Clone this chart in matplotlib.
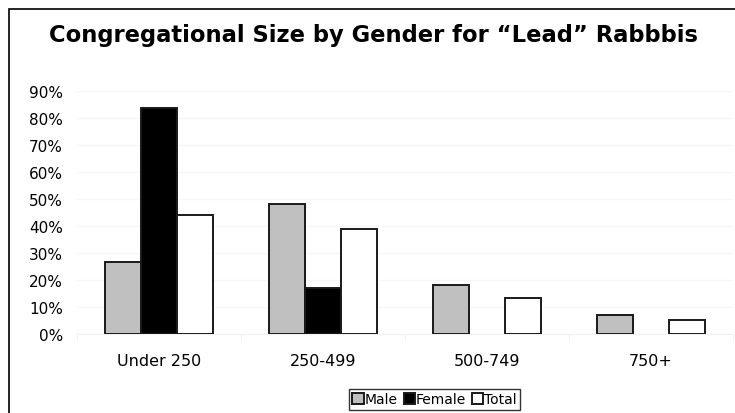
import numpy as np
import matplotlib.pyplot as plt
from matplotlib.patches import Rectangle
from matplotlib.ticker import FixedLocator

categories = ["Under 250", "250-499", "500-749", "750+"]
male = [26.7, 48.3, 18.1, 7.0]
female = [83.6, 17.0, 0.0, 0.0]
total = [44.0, 39.0, 13.3, 5.2]
yticks = [0, 10, 20, 30, 40, 50, 60, 70, 80, 90]

W, H = 735, 414
fig = plt.figure(figsize=(W / 100, H / 100), dpi=100)
fig.patch.set_facecolor("white")

# outer chart frame (cropped at right and bottom)
fig.patches.append(Rectangle((9 / W, -0.1), 2.0, 1.1 - 10 / H, transform=fig.transFigure,
                             fill=False, edgecolor="black", linewidth=1.2, clip_on=False))

ax = fig.add_axes([77 / W, 1 - 335 / H, (733 - 77) / W, (335 - 92) / H])
x = np.arange(len(categories))
bw = 0.22
kw = dict(edgecolor="#1a1a1a", linewidth=1.4, zorder=3)
ax.bar(x - bw, male, bw, color="#c0c0c0", label="Male", **kw)
ax.bar(x, [v if v > 0 else np.nan for v in female], bw, color="black", label="Female", **kw)
ax.bar(x + bw, total, bw, color="white", label="Total", **kw)

ax.set_xlim(-0.5, len(categories) - 0.5)
ax.set_ylim(0, 90)
ax.set_yticks(yticks)
ax.set_yticklabels([f"{v}%" for v in yticks], fontsize=11)
ax.set_xticks(x)
ax.set_xticklabels(categories, fontsize=11.5)
ax.xaxis.set_minor_locator(FixedLocator(np.arange(len(categories) + 1) - 0.5))
ax.tick_params(axis="x", which="major", length=0, pad=14)
ax.tick_params(axis="x", which="minor", length=4, color="#f0f0f0")
ax.tick_params(axis="y", length=0, pad=10)
for s in ["top", "right", "left"]:
    ax.spines[s].set_visible(False)
ax.spines["bottom"].set_color("#f0f0f0")
ax.grid(axis="y", color="#f7f7f7", linewidth=1, zorder=0)
ax.set_axisbelow(True)

fig.text(373 / W, 1 - 36 / H, "Congregational Size by Gender for \u201cLead\u201d Rabbbis",
         ha="center", va="center", fontsize=16.3, fontweight="bold")

leg = fig.legend(loc="upper left", bbox_to_anchor=(349 / W, 1 - 390 / H), ncol=3,
                 fontsize=10, frameon=True, fancybox=False, edgecolor="black",
                 handlelength=0.8, handleheight=0.8, handletextpad=0.1,
                 columnspacing=0.4, borderpad=0.25, borderaxespad=0)
leg.get_frame().set_linewidth(1.0)

fig.savefig("out.png", dpi=100)
